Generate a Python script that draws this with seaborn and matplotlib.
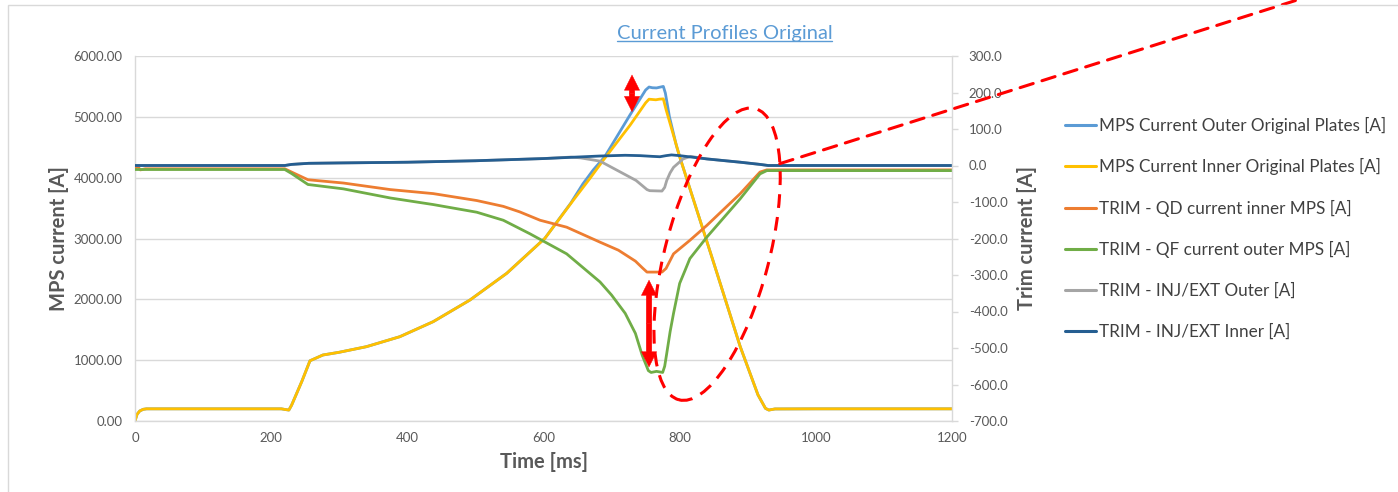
import matplotlib
matplotlib.use("Agg")
import matplotlib.pyplot as plt
import seaborn as sns
from matplotlib.lines import Line2D
from matplotlib.patches import Ellipse, Rectangle, ArrowStyle
from matplotlib.transforms import Affine2D, ScaledTranslation
from matplotlib.ticker import FormatStrFormatter, MultipleLocator

# ---------------- data ----------------
title = "Current Profiles Original"
labels = [
    "MPS Current Outer Original Plates [A]",
    "MPS Current Inner Original Plates [A]",
    "TRIM - QD current inner MPS [A]",
    "TRIM - QF current outer MPS [A]",
    "TRIM - INJ/EXT Outer [A]",
    "TRIM - INJ/EXT Inner [A]",
]
colors = ["#5B9BD5", "#FFC000", "#ED7D31", "#70AD47", "#A5A5A5", "#255E91"]

# MPS inner (left axis)
t_inner = [0, 3, 7, 12, 17, 100, 215, 220, 226, 230, 245, 257, 265, 276, 300, 340, 389,
           438, 492, 546, 602, 644, 668, 688, 727, 750, 755, 760, 765, 770, 776, 780,
           800, 850, 889, 915, 926, 931, 940, 1000, 1200]
mps_inner = [0, 110, 165, 192, 200, 200, 200, 190, 180, 260, 650, 990, 1030, 1085, 1130,
             1222, 1386, 1633, 1989, 2428, 3003, 3633, 3985, 4290, 4860, 5230, 5290, 5285,
             5280, 5290, 5295, 5120, 4345, 2600, 1221, 430, 208, 180, 198, 200, 200]

# MPS outer (left axis)
t_outer = [0, 3, 7, 12, 17, 100, 215, 220, 226, 230, 245, 257, 265, 276, 300, 340, 389,
           438, 492, 546, 602, 640, 658, 673, 690, 727, 750, 755, 760, 766, 772, 776, 779,
           785, 795, 800, 850, 889, 915, 926, 931, 940, 1000, 1200]
mps_outer = [0, 110, 165, 192, 200, 200, 200, 190, 180, 260, 650, 990, 1030, 1085, 1130,
             1222, 1386, 1633, 1989, 2428, 3003, 3580, 3900, 4126, 4345, 5030, 5441, 5490,
             5478, 5475, 5490, 5500, 5390, 5000, 4535, 4345, 2600, 1221, 430, 208, 180, 198,
             200, 200]

# Trim QD (right axis)
t_qd = [0, 4, 8, 15, 220, 230, 254, 306, 375, 438, 502, 541, 565, 595, 634, 683, 710, 735,
        745, 752, 774, 780, 791, 815, 840, 889, 918, 928, 1200]
trim_qd = [-8, -3, -12, -9, -9, -18, -39, -48, -66, -77, -96, -112, -127, -150, -169, -210,
           -232, -262, -280, -292, -292, -282, -242, -205, -164, -77, -18, -12, -12]

# Trim QF (right axis)
t_qf = [0, 220, 230, 254, 306, 375, 438, 502, 541, 580, 634, 683, 700, 720, 735, 745, 754,
        758, 766, 775, 778, 781, 786, 791, 800, 808, 815, 840, 889, 918, 928, 1200]
trim_qf = [-11, -11, -22, -52, -64, -89, -107, -128, -150, -187, -242, -319, -355, -405,
           -460, -520, -562, -567, -564, -567, -550, -515, -455, -405, -323, -287, -255, -196,
           -91, -23, -14, -14]

# Trim INJ/EXT inner (right axis)
t_inj_in = [0, 220, 230, 255, 300, 400, 500, 600, 683, 720, 742, 760, 771, 780, 788, 800,
            840, 889, 918, 930, 1200]
trim_inj_in = [0, 0, 3, 6, 7, 9, 13, 19, 26, 28, 27, 25, 24, 27, 29, 27, 18, 9, 3, 0, 0]

# Trim INJ/EXT outer (right axis)
t_inj_out = [0, 220, 230, 255, 300, 400, 500, 600, 640, 654, 683, 708, 736, 745, 752, 756,
             774, 778, 781, 786, 791, 805, 816, 840, 889, 918, 930, 1200]
trim_inj_out = [0, 0, 3, 6, 7, 9, 13, 19, 23, 21, 12, -13, -41, -55, -66, -69, -70, -60,
                -41, -20, -5, 18, 25, 18, 9, 3, 0, 0]

# annotation anchors (data units)
arrow_top = dict(x=730, y0=5085, y1=5688)       # left axis
arrow_bottom = dict(x=755, y0=-552, y1=-314)    # right axis
ellipse_center = (855, -243)                    # right axis
link_start = (947, 5)                           # right axis

# ---------------- figure ----------------
sns.set_theme(style="white")
plt.rcParams['font.family'] = ['Lato', 'DejaVu Sans']
plt.rcParams['axes.unicode_minus'] = False

W, H = 1398, 492
fig = plt.figure(figsize=(W / 100, H / 100), dpi=100)
ax = fig.add_axes([135 / W, 71 / H, 817 / W, 365 / H])
ax2 = ax.twinx()

lw = 2.0
sns.lineplot(x=t_outer, y=mps_outer, ax=ax, color=colors[0], lw=lw, legend=False)
sns.lineplot(x=t_inner, y=mps_inner, ax=ax, color=colors[1], lw=lw, legend=False)
sns.lineplot(x=t_qd, y=trim_qd, ax=ax2, color=colors[2], lw=lw, legend=False)
sns.lineplot(x=t_qf, y=trim_qf, ax=ax2, color=colors[3], lw=lw, legend=False)
sns.lineplot(x=t_inj_out, y=trim_inj_out, ax=ax2, color=colors[4], lw=lw, legend=False)
sns.lineplot(x=t_inj_in, y=trim_inj_in, ax=ax2, color=colors[5], lw=lw, legend=False)

txt = "#595959"
grid_c = "#D9D9D9"

ax.set_xlim(0, 1200)
ax.set_ylim(0, 6000)
ax2.set_ylim(-700, 300)
ax.xaxis.set_major_locator(MultipleLocator(200))
ax.yaxis.set_major_locator(MultipleLocator(1000))
ax2.yaxis.set_major_locator(MultipleLocator(100))
ax.yaxis.set_major_formatter(FormatStrFormatter("%.2f"))
ax2.yaxis.set_major_formatter(FormatStrFormatter("%.1f"))

ax.yaxis.grid(True, color=grid_c, lw=1)
ax.xaxis.grid(False)
ax2.grid(False)
ax.set_axisbelow(True)

for s in ["top", "right"]:
    ax.spines[s].set_visible(False)
for s in ["left", "bottom"]:
    ax.spines[s].set_color(grid_c)
    ax.spines[s].set_linewidth(1)
for s in ["top", "left", "bottom"]:
    ax2.spines[s].set_visible(False)
ax2.spines["right"].set_color(grid_c)
ax2.spines["right"].set_linewidth(1)

ax.tick_params(axis="y", length=0, pad=9, labelsize=9.5, labelcolor=txt)
ax.tick_params(axis="x", length=0, pad=8, labelsize=9.5, labelcolor=txt)
ax2.tick_params(axis="y", length=4, width=1, color=grid_c, direction="out", pad=8,
                labelsize=9.5, labelcolor=txt)

lab_fs = 14.5
ax.set_xlabel("Time [ms]", fontsize=lab_fs, fontweight="bold", color=txt, labelpad=6)
ax.set_ylabel("MPS current [A]", fontsize=lab_fs, fontweight="bold", color=txt, labelpad=3)
ax2.set_ylabel("Trim current [A]", fontsize=lab_fs, fontweight="bold", color=txt, labelpad=7)

# title (hyperlink style, underlined)
title_color = "#5B9BD5"
t_art = fig.text(724.5 / W, 1 - 33 / H, title, ha="center", va="center", fontsize=14.5,
                 color=title_color)

# legend
handles = [Line2D([], [], color=c, lw=2.2) for c in colors]
fig.legend(handles, labels, loc="upper left", bbox_to_anchor=(1065 / W, 1 - 117 / H),
           frameon=False, fontsize=12.3, handlelength=1.8, handletextpad=0.2,
           labelspacing=1.43, borderaxespad=0, borderpad=0, labelcolor="#404040")

# annotations
red = "#FF0000"


def double_arrow(axis, x, y0, y1):
    ym = (y0 + y1) / 2
    style = ArrowStyle("simple", head_length=1.0, head_width=1.0, tail_width=0.36)
    for y_end in (y0, y1):
        axis.annotate("", xy=(x, y_end), xytext=(x, ym),
                      arrowprops=dict(arrowstyle=style, color=red, lw=0.3,
                                      mutation_scale=11, shrinkA=0, shrinkB=0),
                      zorder=10)


double_arrow(ax, arrow_top["x"], arrow_top["y0"], arrow_top["y1"])
double_arrow(ax2, arrow_bottom["x"], arrow_bottom["y0"], arrow_bottom["y1"])

ell_tr = Affine2D() + ScaledTranslation(ellipse_center[0], ellipse_center[1], ax2.transData)
ell = Ellipse((0, 0), width=104, height=301, angle=-14.7, transform=ell_tr, fill=False,
              ec=red, lw=2.2, ls=(0, (4.5, 3)), zorder=11, clip_on=False)
ax2.add_patch(ell)

ax2.annotate("", xy=(1313 / W, 1 + 5 / H), xycoords="figure fraction",
             xytext=link_start, textcoords="data",
             arrowprops=dict(arrowstyle="-", color=red, lw=2.2, linestyle=(0, (4.5, 3)),
                             shrinkA=0, shrinkB=0), annotation_clip=False, zorder=11)

# outer chart border (left and top edges visible)
fig.add_artist(Rectangle((8 / W, -0.2), 2, 1.2 - 5 / H, transform=fig.transFigure,
                         fill=False, ec=grid_c, lw=1, clip_on=False))

# underline for title
fig.canvas.draw()
bb = t_art.get_window_extent(fig.canvas.get_renderer())
fig.add_artist(Line2D([bb.x0 / W, bb.x1 / W], [(bb.y0 + 1) / H, (bb.y0 + 1) / H],
                      transform=fig.transFigure, color=title_color, lw=1))

fig.savefig("out.png", dpi=100)
